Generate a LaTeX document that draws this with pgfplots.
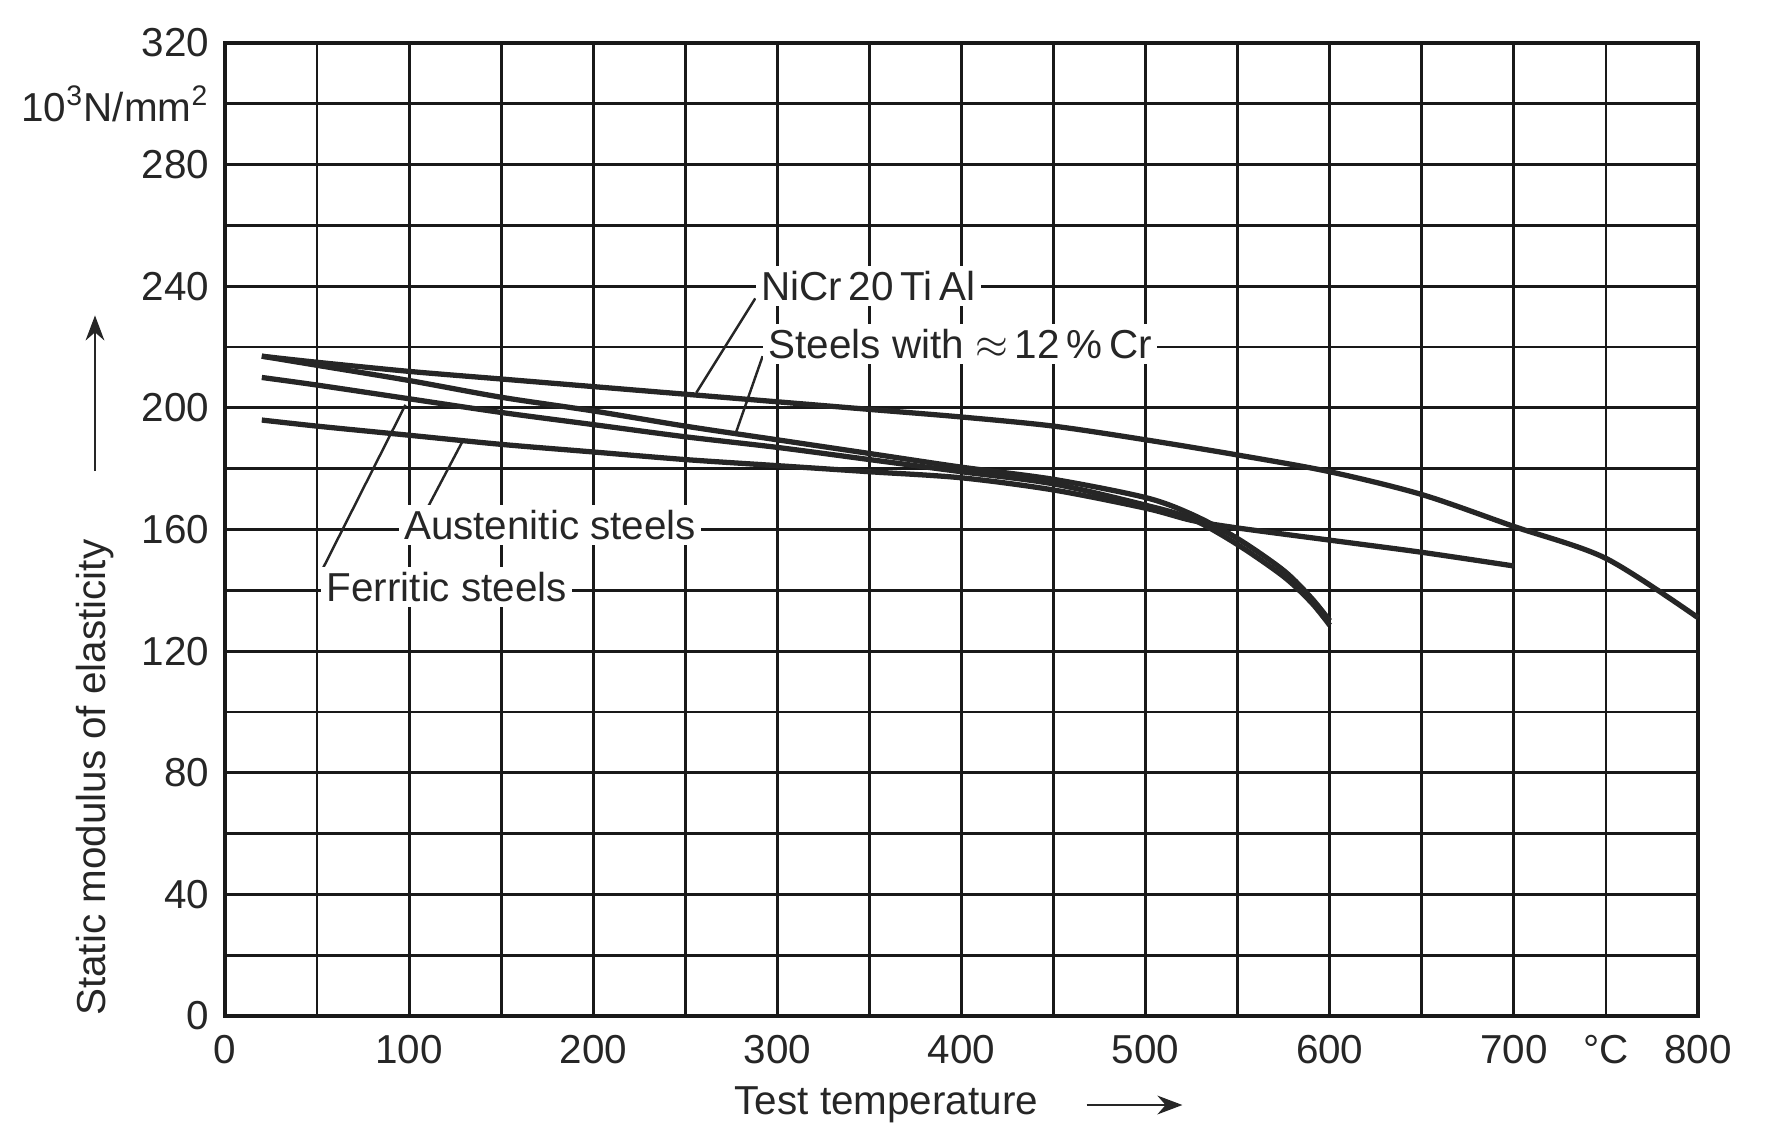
\documentclass[border=0pt]{standalone}
\usepackage{pgfplots}
\pgfplotsset{compat=1.18}
\usepackage{fontspec}
\setmainfont{Liberation Sans}
\usetikzlibrary{arrows.meta}
\tikzset{
  curve/.style={no marks, smooth, line width=1.5pt, black!85},
  lab/.style={fill=white, inner sep=1.5pt, anchor=west, font=\fontsize{11.5}{13}\selectfont, text=black!85},
}
\begin{document}
\begin{tikzpicture}
\useasboundingbox (-2.25cm,-1.24cm) rectangle (15.4cm,10.16cm);
\begin{axis}[
  scale only axis, width=14.73cm, height=9.73cm,
  xmin=0, xmax=800, ymin=0, ymax=320,
  xtick={0,50,...,800}, ytick={0,20,...,320},
  xticklabels={0,,100,,200,,300,,400,,500,,600,,700,°C,800},
  yticklabels={0,,40,,80,,120,,160,,200,,240,,280,{10\textsuperscript{3}N/mm\textsuperscript{2}},320},
  grid=major,
  major grid style={black!90, line width=0.8pt},
  axis line style={black!90, line width=0.9pt},
  major tick length=0pt,
  tick label style={font=\fontsize{11.5}{13}\selectfont, text=black!85},
  xticklabel style={yshift=-2pt},
  yticklabel style={xshift=-1pt},
  /pgf/number format/assume math mode=true,
  clip=false,
]
% NiCr20TiAl
\addplot[curve] coordinates {(20,217)(50,215)(100,212)(150,209.5)(200,207)(250,204.5)(300,202)(350,199.5)(400,197)(450,194)(500,189.5)(550,184.5)(600,179)(650,171.5)(700,161)(750,150.5)(800,131)};
% Steels with ~12% Cr
\addplot[curve] coordinates {(20,217)(50,214)(100,209)(150,203.5)(200,199)(250,194)(300,189.5)(350,185)(400,180.5)(450,176.5)(500,170.5)(525,165)(550,157)(575,146.5)(590,137.5)(600,130)};
% Ferritic steels
\addplot[curve] coordinates {(20,210)(50,207.5)(100,203)(150,198.5)(200,194.5)(250,190.5)(300,187)(350,183)(400,179)(450,175)(500,168)(525,163.5)(550,155)(575,144.5)(590,136)(600,128.5)};
% Austenitic steels
\addplot[curve] coordinates {(20,196)(50,194)(100,191)(150,188)(200,185.5)(250,183)(300,181)(350,179)(400,177)(450,173)(500,167)(525,163)(550,160.5)(600,156.5)(650,152.5)(700,148)};

% labels and leaders
\draw[line width=0.7pt, black!85] (axis cs:288,236) -- (axis cs:256,205);
\node[lab] at (axis cs:288,240) {NiCr\,20\,Ti\,Al};
\draw[line width=0.7pt, black!85] (axis cs:292,217) -- (axis cs:277,191);
\node[lab] at (axis cs:292,221) {Steels with $\approx$\,12\,\%\,Cr};
\draw[line width=0.7pt, black!85] (axis cs:109,166) -- (axis cs:129,189);
\draw[line width=0.7pt, black!85] (axis cs:53,147) -- (axis cs:98,201);
\node[lab] at (axis cs:94,161.5) {Austenitic steels};
\node[lab] at (axis cs:52,141) {Ferritic steels};

% axis titles
\node[rotate=90, font=\fontsize{11.5}{13}\selectfont, text=black!85] at ([xshift=-13mm]rel axis cs:0,0.245) {Static modulus of elasticity};
\draw[-{Stealth[length=2.5mm]}, line width=0.7pt, black!85] ([xshift=-13mm]rel axis cs:0,0.56) -- ([xshift=-13mm]rel axis cs:0,0.72);
\node[font=\fontsize{11.5}{13}\selectfont, text=black!85] at ([yshift=-8.9mm]rel axis cs:0.449,0) {Test temperature};
\draw[-{Stealth[length=2.5mm]}, line width=0.7pt, black!85] ([yshift=-8.9mm]rel axis cs:0.585,0) -- ([yshift=-8.9mm]rel axis cs:0.65,0);
\end{axis}
\end{tikzpicture}
\end{document}
